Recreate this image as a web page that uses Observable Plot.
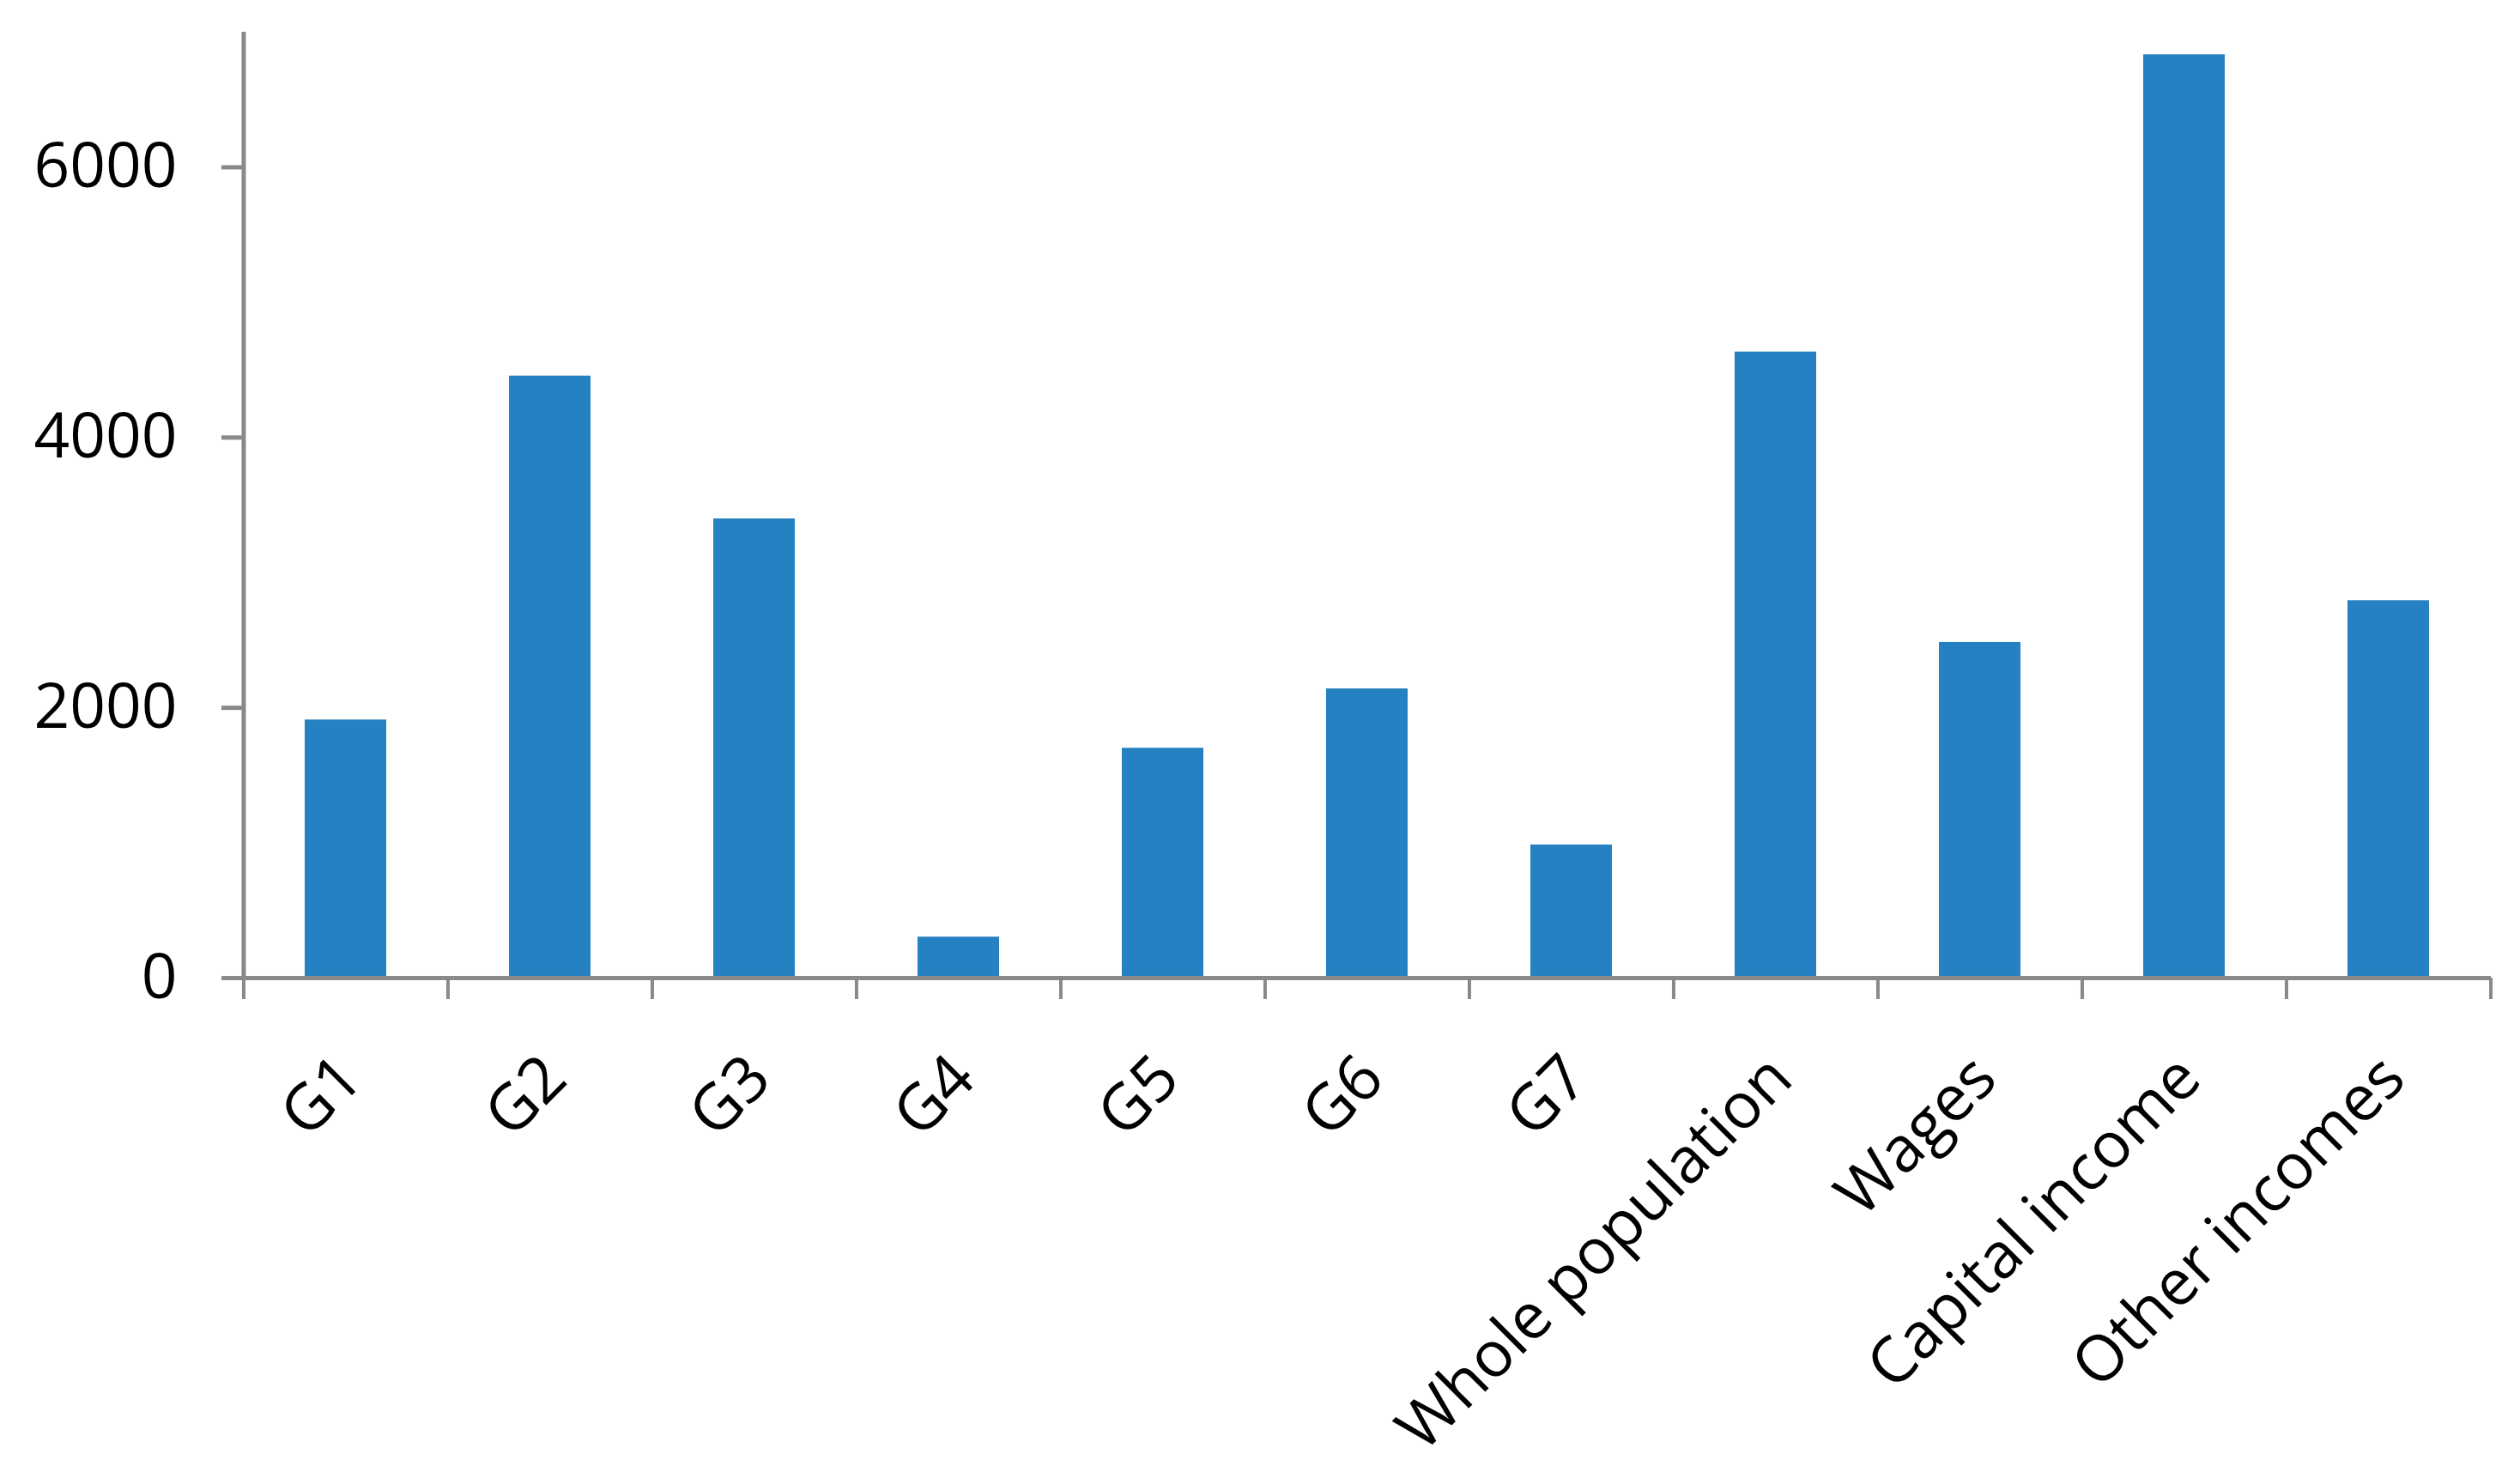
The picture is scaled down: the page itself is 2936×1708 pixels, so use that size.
<!DOCTYPE html>
<html>
<head>
<meta charset="utf-8">
<script src="https://cdn.jsdelivr.net/npm/d3@7"></script>
<script src="https://cdn.jsdelivr.net/npm/@observablehq/plot@0.6"></script>
<style>
  html, body { margin: 0; padding: 0; background: #fff; }
  #chart { width: 2936px; height: 1708px; }
</style>
</head>
<body>
<div id="chart"></div>
<script>
// Data
const categories = ["G1", "G2", "G3", "G4", "G5", "G6", "G7", "Whole population", "Wages", "Capital income", "Other incomes"];
const values = [1910, 4455, 3398, 303, 1701, 2140, 985, 4633, 2484, 6833, 2793];
const yTicks = [0, 2000, 4000, 6000];

const data = categories.map((c, i) => ({category: c, value: values[i]}));

const W = 2936, H = 1708;
const mL = 283, mR = 34, mT = 37, mB = 569;
const step = (W - mL - mR) / categories.length;
const axisColor = "#898989";

const chart = Plot.plot({
  width: W,
  height: H,
  marginLeft: mL,
  marginRight: mR,
  marginTop: mT,
  marginBottom: mB,
  style: {fontFamily: "'Open Sans', sans-serif", background: "#fff", color: "#000"},
  x: {type: "band", domain: categories, paddingInner: 0.6, paddingOuter: 0.3},
  y: {domain: [0, 7000]},
  marks: [
    Plot.barY(data, {x: "category", y: "value", fill: "#2581c1"}),
    // y axis line
    Plot.ruleX([categories[0]], {x: d => d, dx: -step / 2, stroke: axisColor, strokeWidth: 5}),
    // baseline
    Plot.ruleY([0], {stroke: axisColor, strokeWidth: 5}),
    // y ticks and labels
    Plot.axisY(yTicks, {tickSize: 25, tickPadding: 52, stroke: axisColor, strokeWidth: 5, fontSize: 73, tickFormat: d => String(d), label: null, fill: "#000"}),
    // boundary ticks on x
    Plot.axisX({tickSize: 25, tickFormat: () => "", dx: -step / 2, stroke: axisColor, strokeWidth: 4, label: null}),
    Plot.axisX([categories[categories.length - 1]], {tickSize: 25, tickFormat: () => "", dx: step / 2, stroke: axisColor, strokeWidth: 4, label: null}),
    // x labels
    Plot.axisX({tickSize: 0, tickPadding: 104, tickRotate: -45, dx: 6, fontSize: 74, label: null, fill: "#000"})
  ]
});
document.getElementById("chart").appendChild(chart);
</script>
</body>
</html>
